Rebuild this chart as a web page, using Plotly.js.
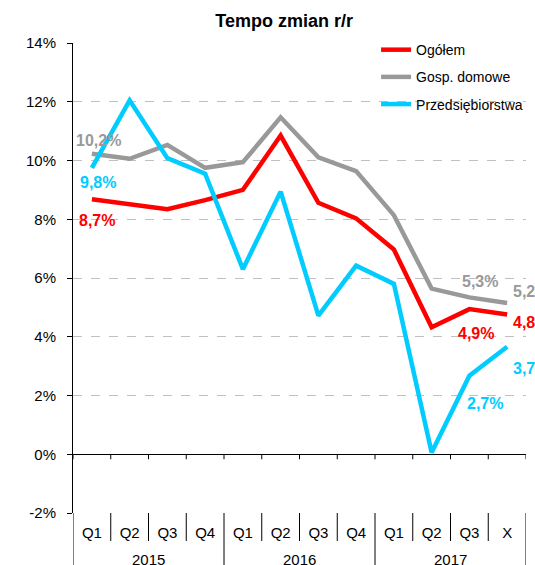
<!DOCTYPE html>
<html>
<head>
<meta charset="utf-8">
<script src="https://cdn.plot.ly/plotly-3.0.1.min.js"></script>
<style>html,body{margin:0;padding:0;background:#fff;}#chart{width:535px;height:565px;}</style>
</head>
<body>
<div id="chart"></div>
<script>
// ---- data ----
const years = ['2015','2015','2015','2015','2016','2016','2016','2016','2017','2017','2017','2017'];
const quarters = ['Q1','Q2','Q3','Q4','Q1','Q2','Q3','Q4','Q1','Q2','Q3','X'];
const seriesNames = ['Ogółem','Gosp. domowe','Przedsiębiorstwa'];
const ogolem = [8.68, 8.51, 8.34, 8.65, 9.00, 10.85, 8.56, 8.03, 6.97, 4.32, 4.94, 4.76];
const gospDomowe = [10.23, 10.06, 10.53, 9.75, 9.94, 11.47, 10.11, 9.64, 8.14, 5.64, 5.34, 5.15];
const przedsiebiorstwa = [9.75, 12.05, 10.08, 9.55, 6.30, 8.94, 4.72, 6.42, 5.80, 0.06, 2.67, 3.66];
const labelsOgolem = ['8,7%','','','','','','','','','','4,9%','4,8%'];
const labelsGosp = ['10,2%','','','','','','','','','','5,3%','5,2%'];
const labelsPrzeds = ['9,8%','','','','','','','','','','2,7%','3,7%'];
const yTickVals = [-2, 0, 2, 4, 6, 8, 10, 12, 14];
const yTickText = ['-2%','0%','2%','4%','6%','8%','10%','12%','14%'];

// ---- styles ----
const colors = ['#FF0000', '#999999', '#00CCFF'];
const FONT = 'Liberation Sans, Arial, sans-serif';
const PLOT_H = 470; // plot area height in px (565 - 43 - 52)
const labelStyle = [
  {0:{xs:5,ys:-21,anchor:'center'}, 10:{xs:7,ys:-24,anchor:'center'}, 11:{xs:4,ys:-8,anchor:'left'}},
  {0:{xs:7,ys:13,anchor:'center'}, 10:{xs:11,ys:16,anchor:'center'}, 11:{xs:4,ys:11,anchor:'left'}},
  {0:{xs:6,ys:-15,anchor:'center'}, 10:{xs:16,ys:-28,anchor:'center'}, 11:{xs:4,ys:-22,anchor:'left'}}
];

const values = [ogolem, gospDomowe, przedsiebiorstwa];
const labels = [labelsOgolem, labelsGosp, labelsPrzeds];
const idx = quarters.map((q, i) => i);

const traces = values.map((v, s) => ({
  type: 'scatter', mode: 'lines',
  x: idx, y: v,
  name: seriesNames[s], legendgroup: 'g' + s,
  line: {color: colors[s], width: 4.5},
  hoverinfo: 'skip'
}));

const annotations = [];
labels.forEach((arr, s) => {
  arr.forEach((t, i) => {
    if (!t) return;
    const st = labelStyle[s][i];
    annotations.push({
      x: i, y: values[s][i], xref: 'x', yref: 'y', text: t, showarrow: false,
      xanchor: st.anchor, yanchor: 'middle', xshift: st.xs, yshift: st.ys,
      font: {family: FONT, size: 16, color: colors[s], weight: 'bold'}
    });
  });
});

// year group labels
const yearGroups = [];
years.forEach((y, i) => {
  const g = yearGroups.find(o => o.year === y);
  if (g) g.last = i; else yearGroups.push({year: y, first: i, last: i});
});
yearGroups.forEach(g => {
  annotations.push({
    x: (g.first + g.last) / 2, y: 0, xref: 'x', yref: 'paper', text: g.year, showarrow: false,
    xanchor: 'center', yanchor: 'middle', yshift: -46,
    font: {family: FONT, size: 15, color: '#000'}
  });
});

// separators & ticks
const zeroFrac = (0 - yTickVals[0]) / (yTickVals[yTickVals.length - 1] - yTickVals[0]);
const shapes = [];
for (let i = 0; i <= quarters.length; i++) {
  const isYearBnd = (i === 0 || i === quarters.length || years[i] !== years[i - 1]);
  shapes.push({type: 'line', xref: 'x', yref: 'paper',
    x0: i - 0.5, x1: i - 0.5, y0: zeroFrac, y1: zeroFrac - 5 / PLOT_H, line: {color: '#000', width: 1}});
  shapes.push({type: 'line', xref: 'x', yref: 'paper',
    x0: i - 0.5, x1: i - 0.5, y0: 0, y1: -(isYearBnd ? 53 : 28) / PLOT_H, line: {color: '#000', width: 1}});
}

const layout = {
  width: 535, height: 565,
  margin: {l: 73, r: 7, t: 43, b: 52},
  paper_bgcolor: '#fff', plot_bgcolor: '#fff',
  font: {family: FONT, color: '#000'},
  title: {text: 'Tempo zmian r/r', x: 0.531, xref: 'container', y: 0.963, yref: 'container',
    xanchor: 'center', yanchor: 'middle', font: {family: FONT, size: 18, weight: 'bold', color: '#000'}},
  xaxis: {
    range: [-0.5, 11.5], tickvals: idx, ticktext: quarters,
    showgrid: false, zeroline: false, showline: false, ticks: '',
    ticklabelstandoff: 9,
    tickfont: {family: FONT, size: 15, color: '#000'}
  },
  yaxis: {
    range: [-2, 14], tickvals: yTickVals, ticktext: yTickText,
    showline: true, linecolor: '#000', linewidth: 1,
    ticks: 'outside', ticklen: 5, tickcolor: '#000',
    ticklabelstandoff: 8,
    showgrid: true, gridcolor: '#c0c0c0', griddash: 'dash', gridwidth: 1,
    zeroline: true, zerolinecolor: '#000', zerolinewidth: 1.2,
    tickfont: {family: FONT, size: 15, color: '#000'}
  },
  showlegend: true,
  legend: {x: 0.669, xanchor: 'left', y: 1.019, yanchor: 'top', bgcolor: 'rgba(0,0,0,0)',
    traceorder: 'grouped', tracegroupgap: 6,
    font: {family: FONT, size: 14, color: '#000'}},
  annotations: annotations,
  shapes: shapes
};

Plotly.newPlot('chart', traces, layout, {staticPlot: true, displayModeBar: false});
</script>
</body>
</html>
